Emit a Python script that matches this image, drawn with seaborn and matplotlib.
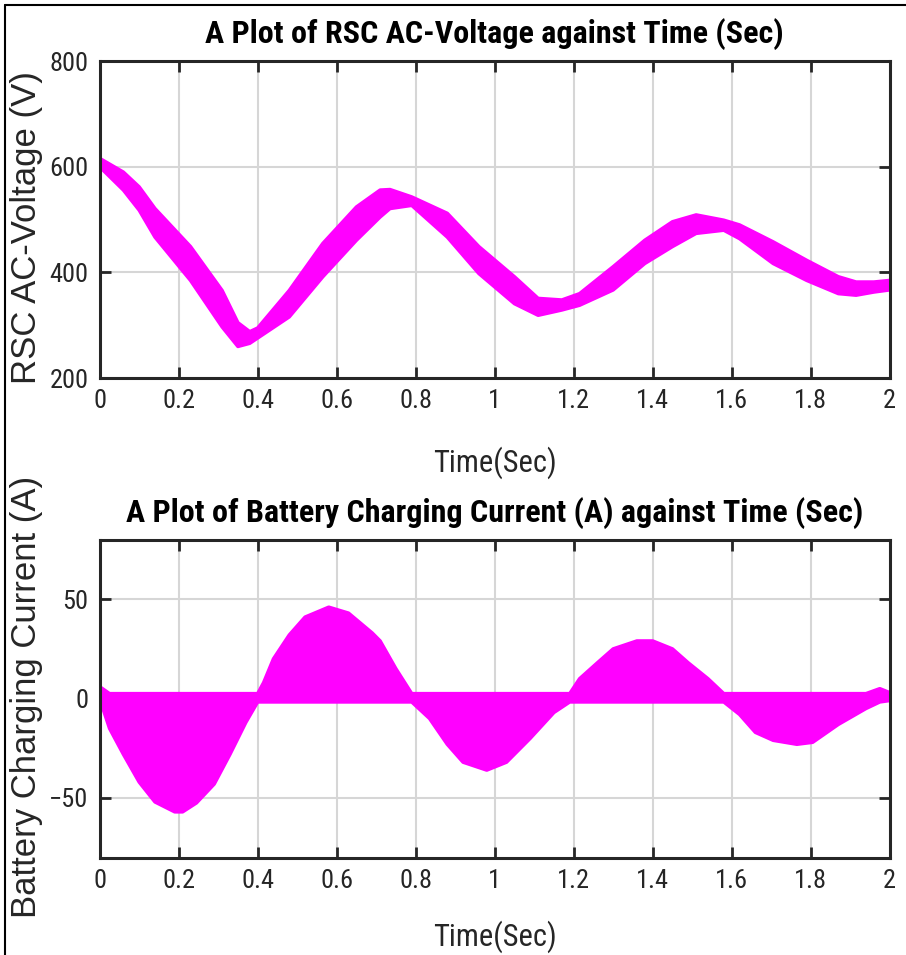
import matplotlib
matplotlib.use("Agg")
import matplotlib.pyplot as plt
from matplotlib.lines import Line2D
import seaborn as sns
import pandas as pd

# ---------------- data ----------------
t_volt = [0, 0.06, 0.10, 0.14, 0.23, 0.31, 0.35, 0.38, 0.40, 0.48, 0.565, 0.65,
          0.71, 0.735, 0.79, 0.88, 0.96, 1.05, 1.11, 1.17, 1.215, 1.30, 1.38,
          1.45, 1.51, 1.58, 1.62, 1.705, 1.79, 1.87, 1.915, 1.96, 2.0]
volt_upper = [616, 590, 562, 521, 449, 366, 305, 288, 295, 366, 455, 524,
              556, 557, 543, 512, 449, 392, 351, 348, 360, 411, 461,
              496, 509, 499, 490, 458, 423, 392, 382, 382, 385]
volt_lower = [600, 556, 518, 467, 385, 297, 260, 266, 276, 316, 392, 461,
              505, 521, 527, 467, 398, 341, 319, 329, 338, 367, 417,
              449, 474, 480, 464, 417, 385, 360, 357, 363, 367]

t_cur = [0, 0.025, 0.06, 0.10, 0.14, 0.19, 0.21, 0.245, 0.29, 0.33, 0.37, 0.40,
         0.415, 0.44, 0.48, 0.52, 0.58, 0.63, 0.69, 0.71, 0.75, 0.79,
         0.835, 0.88, 0.92, 0.98, 1.03, 1.09, 1.15, 1.19,
         1.215, 1.26, 1.30, 1.36, 1.40, 1.45, 1.49, 1.54, 1.58,
         1.62, 1.66, 1.705, 1.765, 1.805, 1.87, 1.94,
         1.975, 2.0]
cur_upper = [6, 2.5, 2.5, 2.5, 2.5, 2.5, 2.5, 2.5, 2.5, 2.5, 2.5, 2.5,
             8, 20, 32, 41, 46, 43, 33, 29, 15, 2.5,
             2.5, 2.5, 2.5, 2.5, 2.5, 2.5, 2.5, 2.5,
             10, 18, 25, 29, 29, 25, 18, 10, 2.5,
             2.5, 2.5, 2.5, 2.5, 2.5, 2.5, 2.5,
             5, 3]
cur_lower = [0, -15, -28, -42, -52, -57, -57, -52.5, -43, -28, -12, -1.7,
             -1.7, -1.7, -1.7, -1.7, -1.7, -1.7, -1.7, -1.7, -1.7, -1.7,
             -10, -23, -32, -36, -32, -20, -7, -1.7,
             -1.7, -1.7, -1.7, -1.7, -1.7, -1.7, -1.7, -1.7, -1.7,
             -8, -17, -21, -23, -22, -13, -5,
             -1.7, -1]

x_ticks = [0, 0.2, 0.4, 0.6, 0.8, 1.0, 1.2, 1.4, 1.6, 1.8, 2.0]
x_tick_labels = ["0", "0.2", "0.4", "0.6", "0.8", "1", "1.2", "1.4", "1.6", "1.8", "2"]
volt_ticks = [200, 400, 600, 800]
cur_ticks = [-50, 0, 50]

titles = ["A Plot of RSC AC-Voltage against Time (Sec)",
          "A Plot of Battery Charging Current (A) against Time (Sec)"]
ylabels = ["RSC AC-Voltage (V)", "Battery Charging Current (A)"]
xlabel = "Time(Sec)"

# ---------------- styling ----------------
sns.set_theme(style="white")
NARROW = ["Roboto Condensed", "Liberation Sans Narrow", "DejaVu Sans Condensed", "Roboto"]
WIDE = ["Liberation Sans", "DejaVu Sans"]
plt.rcParams["font.family"] = NARROW
MAG = "#FF00FF"

fig = plt.figure(figsize=(9.06, 9.55), dpi=100)
fig.patch.set_facecolor("white")
ax1 = fig.add_axes([0.110, 0.604, 0.872, 0.332])
ax2 = fig.add_axes([0.110, 0.102, 0.872, 0.333])

dv = pd.DataFrame({"t": t_volt, "upper": volt_upper, "lower": volt_lower})
dc = pd.DataFrame({"t": t_cur, "upper": cur_upper, "lower": cur_lower})

for ax, df in [(ax1, dv), (ax2, dc)]:
    ax.fill_between(df["t"], df["lower"], df["upper"], color=MAG, lw=0, zorder=3)
    sns.lineplot(data=df, x="t", y="upper", ax=ax, color=MAG, lw=2.5, zorder=4)
    sns.lineplot(data=df, x="t", y="lower", ax=ax, color=MAG, lw=2.5, zorder=4)

ax1.set_ylim(200, 800)
ax1.set_yticks(volt_ticks)
ax2.set_ylim(-80, 80)
ax2.set_yticks(cur_ticks)

for i, ax in enumerate([ax1, ax2]):
    ax.set_xlim(0, 2)
    ax.set_xticks(x_ticks)
    ax.set_xticklabels(x_tick_labels)
    ax.grid(True, color="#d6d6d6", lw=1.5, zorder=0)
    ax.set_axisbelow(True)
    for s in ax.spines.values():
        s.set_visible(True)
        s.set_color("#262626")
        s.set_linewidth(2.2)
        s.set_zorder(6)
    ax.tick_params(direction="in", length=8, width=2, colors="#262626",
                   top=True, right=True, bottom=True, left=True,
                   labelsize=19, pad=8)
    for lab in ax.get_xticklabels() + ax.get_yticklabels():
        lab.set_family(NARROW)
        lab.set_color("#262626")
    ax.set_title(titles[i], fontsize=23, fontweight="bold", family=NARROW,
                 color="black", pad=13)
    ax.set_xlabel(xlabel, fontsize=22, family=NARROW, color="#262626",
                  labelpad=24 if i == 0 else 20)
    ax.set_ylabel(ylabels[i], fontsize=25, family=WIDE, color="#262626")

ax1.yaxis.set_label_coords(-0.072, 0.475)
ax2.yaxis.set_label_coords(-0.072, 0.505)

# frame lines of the original picture
fig.add_artist(Line2D([5 / 906, 5 / 906], [0, 1 - 5 / 955], color="black", lw=1.5,
                      transform=fig.transFigure))
fig.add_artist(Line2D([5 / 906, 1], [1 - 5 / 955, 1 - 5 / 955], color="black", lw=1.5,
                      transform=fig.transFigure))

fig.savefig("out.png", dpi=100, facecolor="white")
